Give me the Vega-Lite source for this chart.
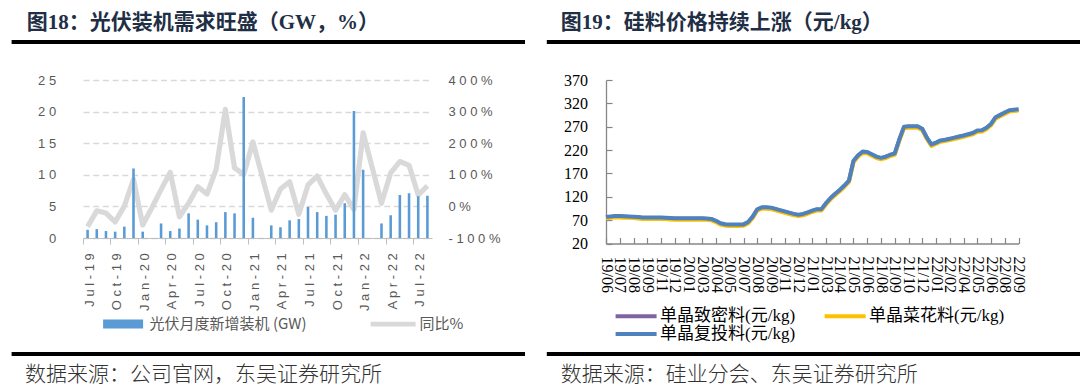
{
  "$schema": "https://vega.github.io/schema/vega-lite/v6.json",
  "background": "white",
  "padding": {"left": 9, "top": 12, "right": 0, "bottom": 0},
  "config": {"view": {"stroke": null}},
  "columns": 2,
  "align": "each",
  "bounds": "full",
  "spacing": {"row": 9, "column": 17},
  "resolve": {"scale": {"color": "independent", "x": "independent", "y": "independent"}, "legend": {"color": "independent"}},
  "concat": [
    {
      "width": 349,
      "height": 23,
      "data": {"values": [{}]},
      "title": {"text": "图18：光伏装机需求旺盛（GW，%）", "anchor": "start", "frame": "group", "dx": -56.3, "offset": 7, "font": "Liberation Serif, Noto Sans CJK SC", "fontSize": 21, "fontWeight": "bold", "color": "#1f2f45"},
      "mark": {"type": "rule", "color": "#000000", "strokeWidth": 4, "strokeCap": "butt"},
      "encoding": {
        "x": {"datum": 0, "type": "quantitative", "scale": {"domain": [0, 1], "range": [-71.4, 442]}, "axis": null},
        "x2": {"datum": 1},
        "y": {"datum": 1, "type": "quantitative", "scale": {"domain": [0, 1], "range": [23, 2]}, "axis": null}
      }
    },
    {
      "width": 412.5,
      "height": 23,
      "data": {"values": [{}]},
      "title": {"text": "图19：硅料价格持续上涨（元/kg）", "anchor": "start", "frame": "group", "dx": -45.2, "offset": 7, "font": "Liberation Serif, Noto Sans CJK SC", "fontSize": 21, "fontWeight": "bold", "color": "#1f2f45"},
      "mark": {"type": "rule", "color": "#000000", "strokeWidth": 4, "strokeCap": "butt"},
      "encoding": {
        "x": {"datum": 0, "type": "quantitative", "scale": {"domain": [0, 1], "range": [-59.2, 475]}, "axis": null},
        "x2": {"datum": 1},
        "y": {"datum": 1, "type": "quantitative", "scale": {"domain": [0, 1], "range": [23, 2]}, "axis": null}
      }
    },
    {
      "width": 349,
      "height": 158,
      "data": {"values": [
        {"month": "Jul-19", "gw": 1.3, "yoy": -64},
        {"month": "Aug-19", "gw": 1.4, "yoy": -14},
        {"month": "Sep-19", "gw": 1.1, "yoy": -21},
        {"month": "Oct-19", "gw": 1.0, "yoy": -49},
        {"month": "Nov-19", "gw": 1.8, "yoy": 1},
        {"month": "Dec-19", "gw": 11.0, "yoy": 86},
        {"month": "Jan-20", "gw": 1.0, "yoy": -59},
        {"month": "Feb-20", "gw": null, "yoy": -4},
        {"month": "Mar-20", "gw": 2.3, "yoy": 53},
        {"month": "Apr-20", "gw": 1.1, "yoy": 108},
        {"month": "May-20", "gw": 1.5, "yoy": -33},
        {"month": "Jun-20", "gw": 3.9, "yoy": 10},
        {"month": "Jul-20", "gw": 2.9, "yoy": 62},
        {"month": "Aug-20", "gw": 2.0, "yoy": 39},
        {"month": "Sep-20", "gw": 2.5, "yoy": 117},
        {"month": "Oct-20", "gw": 4.1, "yoy": 307},
        {"month": "Nov-20", "gw": 3.9, "yoy": 122},
        {"month": "Dec-20", "gw": 22.3, "yoy": 101},
        {"month": "Jan-21", "gw": 3.2, "yoy": 204},
        {"month": "Feb-21", "gw": null, "yoy": 96},
        {"month": "Mar-21", "gw": 2.0, "yoy": -12},
        {"month": "Apr-21", "gw": 1.7, "yoy": 55},
        {"month": "May-21", "gw": 2.8, "yoy": 78},
        {"month": "Jun-21", "gw": 3.0, "yoy": -25},
        {"month": "Jul-21", "gw": 4.9, "yoy": 68},
        {"month": "Aug-21", "gw": 4.1, "yoy": 96},
        {"month": "Sep-21", "gw": 3.5, "yoy": 39},
        {"month": "Oct-21", "gw": 3.7, "yoy": -12},
        {"month": "Nov-21", "gw": 5.5, "yoy": 37},
        {"month": "Dec-21", "gw": 20.1, "yoy": -10},
        {"month": "Jan-22", "gw": 10.8, "yoy": 233},
        {"month": "Feb-22", "gw": null, "yoy": 122},
        {"month": "Mar-22", "gw": 2.3, "yoy": 10},
        {"month": "Apr-22", "gw": 3.6, "yoy": 106},
        {"month": "May-22", "gw": 6.8, "yoy": 142},
        {"month": "Jun-22", "gw": 7.1, "yoy": 130},
        {"month": "Jul-22", "gw": 6.6, "yoy": 36},
        {"month": "Aug-22", "gw": 6.7, "yoy": 65}
      ]},
      "encoding": {
        "x": {
          "field": "month", "type": "ordinal", "sort": null,
          "scale": {"paddingInner": 0, "paddingOuter": 0},
          "axis": {
            "title": null,
            "values": ["Jul-19", "Oct-19", "Jan-20", "Apr-20", "Jul-20", "Oct-20", "Jan-21", "Apr-21", "Jul-21", "Oct-21", "Jan-22", "Apr-22", "Jul-22"],
            "bandPosition": 0, "labelAngle": -90, "labelOffset": 2, "labelPadding": 8.7,
            "tickSize": 6, "tickColor": "#BFBFBF", "domainColor": "#BFBFBF", "grid": false,
            "labelFont": "Liberation Sans", "labelFontSize": 13, "labelColor": "#595959",
            "labelExpr": "join(split(datum.label, ''), ' ')"
          }
        }
      },
      "layer": [
        {
          "mark": {"type": "line", "strokeWidth": 5.2, "strokeJoin": "round"},
          "encoding": {
            "y": {
              "field": "yoy", "type": "quantitative",
              "scale": {"domain": [-100, 400], "nice": false},
              "axis": {"orient": "right", "title": null, "values": [-100, 0, 100, 200, 300, 400], "grid": false, "domain": false, "ticks": false, "tickSize": 0, "labelPadding": 16, "minExtent": 93, "labelFont": "Liberation Sans", "labelFontSize": 13, "labelColor": "#595959", "labelExpr": "join(split(datum.value + '%', ''), ' ')"}
            },
            "color": {
              "datum": "同比%",
              "scale": {"domain": ["光伏月度新增装机 (GW)", "同比%"], "range": ["#5B9BD5", "#D9D9D9"]},
              "legend": {
                "orient": "none", "legendX": 32.6, "legendY": 236.3, "direction": "horizontal", "title": null,
                "padding": 0, "symbolType": "M-4,-0.9H4V0.9H-4Z", "symbolSize": 100, "labelOffset": 19,
                "columnPadding": 64, "labelFont": "Noto Sans CJK SC", "labelFontSize": 15, "labelColor": "#595959", "labelLimit": 400,
                "encode": {
                  "symbols": {
                    "update": {
                      "shape": {"signal": "datum.value === '同比%' ? 'M-4.5,-0.48H4.5V0.48H-4.5Z' : 'M-4,-0.9H4V0.9H-4Z'"},
                      "fill": {"signal": "datum.value === '同比%' ? '#D9D9D9' : '#5B9BD5'"},
                      "stroke": {"value": "transparent"},
                      "strokeWidth": {"value": 0},
                      "opacity": {"value": 1}
                    }
                  }
                }
              }
            }
          }
        },
        {
          "mark": {"type": "bar", "width": {"band": 0.28}},
          "encoding": {
            "y": {
              "field": "gw", "type": "quantitative",
              "scale": {"domain": [0, 25], "nice": false},
              "axis": {"orient": "left", "title": null, "values": [0, 5, 10, 15, 20, 25], "grid": true, "gridDash": [6, 3.7], "gridColor": "#D9D9D9", "gridWidth": 1.3, "domain": false, "ticks": false, "tickSize": 0, "labelPadding": 27.3, "minExtent": 71.4, "labelFont": "Liberation Sans", "labelFontSize": 13, "labelColor": "#595959", "labelExpr": "join(split(datum.label, ''), ' ')"}
            },
            "color": {"datum": "光伏月度新增装机 (GW)"}
          }
        }
      ],
      "resolve": {"scale": {"y": "independent"}}
    },
    {
      "width": 412.5,
      "height": 163.5,
      "data": {"values": [
        {"d": "2019-06-01", "dense": 76.0, "flower": 74.0, "recharge": 77.0},
        {"d": "2019-06-11", "dense": 77.0, "flower": 75.0, "recharge": 78.0},
        {"d": "2019-06-21", "dense": 78.0, "flower": 76.0, "recharge": 79.0},
        {"d": "2019-07-01", "dense": 77.7, "flower": 75.7, "recharge": 78.7},
        {"d": "2019-07-11", "dense": 77.3, "flower": 75.3, "recharge": 78.3},
        {"d": "2019-07-21", "dense": 76.9, "flower": 74.9, "recharge": 77.9},
        {"d": "2019-08-01", "dense": 76.5, "flower": 74.5, "recharge": 77.5},
        {"d": "2019-08-11", "dense": 75.5, "flower": 73.5, "recharge": 76.5},
        {"d": "2019-08-21", "dense": 74.6, "flower": 72.6, "recharge": 75.6},
        {"d": "2019-09-01", "dense": 74.6, "flower": 72.6, "recharge": 75.6},
        {"d": "2019-09-11", "dense": 74.6, "flower": 72.6, "recharge": 75.6},
        {"d": "2019-09-21", "dense": 74.6, "flower": 72.6, "recharge": 75.6},
        {"d": "2019-11-01", "dense": 74.6, "flower": 72.6, "recharge": 75.6},
        {"d": "2019-11-11", "dense": 74.2, "flower": 72.2, "recharge": 75.2},
        {"d": "2019-11-21", "dense": 73.6, "flower": 71.6, "recharge": 74.6},
        {"d": "2019-12-01", "dense": 73.1, "flower": 71.1, "recharge": 74.1},
        {"d": "2019-12-11", "dense": 73.0, "flower": 71.0, "recharge": 74.0},
        {"d": "2019-12-21", "dense": 73.0, "flower": 71.0, "recharge": 74.0},
        {"d": "2020-01-01", "dense": 73.0, "flower": 71.0, "recharge": 74.0},
        {"d": "2020-01-11", "dense": 73.0, "flower": 71.0, "recharge": 74.0},
        {"d": "2020-01-21", "dense": 73.0, "flower": 71.0, "recharge": 74.0},
        {"d": "2020-03-01", "dense": 72.8, "flower": 70.8, "recharge": 73.8},
        {"d": "2020-03-11", "dense": 72.6, "flower": 70.6, "recharge": 73.6},
        {"d": "2020-03-21", "dense": 71.5, "flower": 69.5, "recharge": 72.5},
        {"d": "2020-04-01", "dense": 67.5, "flower": 65.5, "recharge": 68.5},
        {"d": "2020-04-11", "dense": 62.4, "flower": 60.4, "recharge": 63.4},
        {"d": "2020-04-21", "dense": 60.2, "flower": 58.2, "recharge": 61.2},
        {"d": "2020-05-01", "dense": 59.5, "flower": 57.5, "recharge": 60.5},
        {"d": "2020-05-11", "dense": 59.5, "flower": 57.5, "recharge": 60.5},
        {"d": "2020-05-21", "dense": 59.6, "flower": 57.6, "recharge": 60.6},
        {"d": "2020-07-01", "dense": 59.9, "flower": 57.9, "recharge": 60.9},
        {"d": "2020-07-11", "dense": 65.0, "flower": 63.0, "recharge": 66.0},
        {"d": "2020-07-21", "dense": 76.5, "flower": 74.5, "recharge": 77.5},
        {"d": "2020-08-01", "dense": 92.3, "flower": 90.3, "recharge": 93.3},
        {"d": "2020-08-11", "dense": 96.4, "flower": 94.4, "recharge": 97.4},
        {"d": "2020-08-21", "dense": 96.4, "flower": 94.4, "recharge": 97.4},
        {"d": "2020-09-01", "dense": 95.8, "flower": 93.8, "recharge": 96.8},
        {"d": "2020-09-11", "dense": 93.2, "flower": 91.2, "recharge": 94.2},
        {"d": "2020-09-21", "dense": 90.4, "flower": 88.4, "recharge": 91.4},
        {"d": "2020-11-01", "dense": 87.8, "flower": 85.8, "recharge": 88.8},
        {"d": "2020-11-11", "dense": 85.1, "flower": 83.1, "recharge": 86.1},
        {"d": "2020-11-21", "dense": 82.4, "flower": 80.4, "recharge": 83.4},
        {"d": "2020-12-01", "dense": 80.6, "flower": 78.6, "recharge": 81.6},
        {"d": "2020-12-11", "dense": 82.2, "flower": 80.2, "recharge": 83.2},
        {"d": "2020-12-21", "dense": 85.7, "flower": 83.7, "recharge": 86.7},
        {"d": "2021-01-01", "dense": 89.5, "flower": 87.5, "recharge": 90.5},
        {"d": "2021-01-11", "dense": 92.5, "flower": 90.5, "recharge": 93.5},
        {"d": "2021-01-21", "dense": 92.5, "flower": 90.5, "recharge": 93.5},
        {"d": "2021-03-01", "dense": 105.5, "flower": 103.5, "recharge": 106.5},
        {"d": "2021-03-11", "dense": 116.4, "flower": 114.4, "recharge": 117.4},
        {"d": "2021-03-21", "dense": 125.6, "flower": 123.6, "recharge": 126.6},
        {"d": "2021-04-01", "dense": 133.7, "flower": 131.7, "recharge": 134.7},
        {"d": "2021-04-11", "dense": 143.0, "flower": 141.0, "recharge": 144.0},
        {"d": "2021-04-21", "dense": 153.4, "flower": 151.4, "recharge": 154.4},
        {"d": "2021-05-01", "dense": 196.0, "flower": 194.0, "recharge": 197.0},
        {"d": "2021-05-11", "dense": 208.0, "flower": 206.0, "recharge": 209.0},
        {"d": "2021-05-21", "dense": 215.7, "flower": 213.7, "recharge": 216.7},
        {"d": "2021-06-01", "dense": 215.0, "flower": 213.0, "recharge": 216.0},
        {"d": "2021-06-11", "dense": 210.0, "flower": 208.0, "recharge": 211.0},
        {"d": "2021-06-21", "dense": 205.0, "flower": 203.0, "recharge": 206.0},
        {"d": "2021-08-01", "dense": 202.4, "flower": 200.4, "recharge": 203.4},
        {"d": "2021-08-11", "dense": 204.8, "flower": 202.8, "recharge": 205.8},
        {"d": "2021-08-21", "dense": 209.0, "flower": 207.0, "recharge": 210.0},
        {"d": "2021-09-01", "dense": 212.0, "flower": 210.0, "recharge": 213.0},
        {"d": "2021-09-11", "dense": 242.0, "flower": 240.0, "recharge": 243.0},
        {"d": "2021-09-21", "dense": 268.7, "flower": 266.7, "recharge": 269.7},
        {"d": "2021-10-01", "dense": 270.0, "flower": 268.0, "recharge": 271.0},
        {"d": "2021-10-11", "dense": 270.0, "flower": 268.0, "recharge": 271.0},
        {"d": "2021-10-21", "dense": 270.0, "flower": 268.0, "recharge": 271.0},
        {"d": "2021-12-01", "dense": 264.7, "flower": 262.7, "recharge": 265.7},
        {"d": "2021-12-11", "dense": 245.8, "flower": 243.8, "recharge": 246.8},
        {"d": "2021-12-21", "dense": 231.0, "flower": 229.0, "recharge": 232.0},
        {"d": "2022-01-01", "dense": 235.0, "flower": 233.0, "recharge": 236.0},
        {"d": "2022-01-11", "dense": 239.7, "flower": 237.7, "recharge": 240.7},
        {"d": "2022-01-21", "dense": 241.2, "flower": 239.2, "recharge": 242.2},
        {"d": "2022-02-01", "dense": 243.3, "flower": 241.3, "recharge": 244.3},
        {"d": "2022-02-11", "dense": 245.6, "flower": 243.6, "recharge": 246.6},
        {"d": "2022-02-21", "dense": 247.9, "flower": 245.9, "recharge": 248.9},
        {"d": "2022-04-01", "dense": 250.2, "flower": 248.2, "recharge": 251.2},
        {"d": "2022-04-11", "dense": 252.8, "flower": 250.8, "recharge": 253.8},
        {"d": "2022-04-21", "dense": 255.6, "flower": 253.6, "recharge": 256.6},
        {"d": "2022-05-01", "dense": 260.8, "flower": 258.8, "recharge": 261.8},
        {"d": "2022-05-11", "dense": 261.5, "flower": 259.5, "recharge": 262.5},
        {"d": "2022-05-21", "dense": 266.8, "flower": 264.8, "recharge": 267.8},
        {"d": "2022-06-01", "dense": 275.0, "flower": 273.0, "recharge": 276.0},
        {"d": "2022-06-11", "dense": 289.3, "flower": 287.3, "recharge": 290.3},
        {"d": "2022-06-21", "dense": 294.3, "flower": 292.3, "recharge": 295.3},
        {"d": "2022-08-01", "dense": 299.5, "flower": 297.5, "recharge": 300.5},
        {"d": "2022-08-11", "dense": 304.3, "flower": 302.3, "recharge": 305.3},
        {"d": "2022-08-21", "dense": 305.5, "flower": 303.5, "recharge": 306.5},
        {"d": "2022-09-01", "dense": 306.5, "flower": 304.5, "recharge": 307.5}
      ]},
      "encoding": {
        "x": {
          "field": "d", "type": "ordinal",
          "scale": {"type": "point", "padding": 0},
          "axis": {
            "title": null,
            "values": ["2019-06-01", "2019-07-01", "2019-08-01", "2019-09-01", "2019-11-01", "2019-12-01", "2020-01-01", "2020-03-01", "2020-04-01", "2020-05-01", "2020-07-01", "2020-08-01", "2020-09-01", "2020-11-01", "2020-12-01", "2021-01-01", "2021-03-01", "2021-04-01", "2021-05-01", "2021-06-01", "2021-08-01", "2021-09-01", "2021-10-01", "2021-12-01", "2022-01-01", "2022-02-01", "2022-04-01", "2022-05-01", "2022-06-01", "2022-08-01", "2022-09-01"],
            "labelExpr": "substring(datum.value, 2, 4) + '/' + substring(datum.value, 5, 7)",
            "labelAngle": 90, "labelPadding": 18.5, "tickSize": -6,
            "tickColor": "#868686", "domainColor": "#868686", "domainWidth": 1.3, "tickWidth": 1.2,
            "labelFont": "Liberation Serif", "labelFontSize": 16, "labelColor": "#000000", "grid": false
          }
        }
      },
      "layer": [
        {
          "mark": {"type": "line", "strokeWidth": 4, "strokeJoin": "round"},
          "encoding": {
            "y": {"field": "dense", "type": "quantitative", "scale": {"domain": [20, 370], "nice": false, "zero": false},
              "axis": {"title": null, "values": [20, 70, 120, 170, 220, 270, 320, 370], "grid": false, "tickSize": -6, "labelPadding": 24.6, "minExtent": 59.2, "tickColor": "#868686", "domainColor": "#868686", "domainWidth": 1.3, "tickWidth": 1.2, "labelFont": "Liberation Serif", "labelFontSize": 16, "labelColor": "#000000"}},
            "color": {
              "datum": "单晶致密料(元/kg)",
              "scale": {"domain": ["单晶致密料(元/kg)", "单晶菜花料(元/kg)", "单晶复投料(元/kg)"], "range": ["#8064A2", "#FFC000", "#4F81BD"]},
              "legend": {
                "orient": "none", "legendX": 21.6, "legendY": 227.5, "columns": 2, "direction": "horizontal", "title": null,
                "padding": 0, "symbolType": "M-4.1,0H4.1", "symbolSize": 100, "symbolStrokeWidth": 4, "symbolFillColor": "transparent",
                "labelOffset": 15.4, "columnPadding": 21, "rowPadding": 0,
                "labelFont": "Liberation Serif, Noto Sans CJK SC", "labelFontSize": 17, "labelColor": "#000000", "labelLimit": 400
              }
            }
          }
        },
        {
          "mark": {"type": "line", "strokeWidth": 4, "strokeJoin": "round"},
          "encoding": {
            "y": {"field": "flower", "type": "quantitative",
              "axis": {"title": null, "values": [20, 70, 120, 170, 220, 270, 320, 370], "grid": false, "tickSize": -6, "labelPadding": 24.6, "minExtent": 59.2, "tickColor": "#868686", "domainColor": "#868686", "domainWidth": 1.3, "tickWidth": 1.2, "labelFont": "Liberation Serif", "labelFontSize": 16, "labelColor": "#000000"}},
            "color": {"datum": "单晶菜花料(元/kg)"}
          }
        },
        {
          "mark": {"type": "line", "strokeWidth": 4, "strokeJoin": "round"},
          "encoding": {
            "y": {"field": "recharge", "type": "quantitative",
              "axis": {"title": null, "values": [20, 70, 120, 170, 220, 270, 320, 370], "grid": false, "tickSize": -6, "labelPadding": 24.6, "minExtent": 59.2, "tickColor": "#868686", "domainColor": "#868686", "domainWidth": 1.3, "tickWidth": 1.2, "labelFont": "Liberation Serif", "labelFontSize": 16, "labelColor": "#000000"}},
            "color": {"datum": "单晶复投料(元/kg)"}
          }
        }
      ]
    },
    {
      "width": 349,
      "height": 4,
      "data": {"values": [{}]},
      "title": {"text": "数据来源：公司官网，东吴证券研究所", "orient": "bottom", "anchor": "start", "frame": "group", "dx": -58, "offset": 8, "font": "Noto Sans CJK SC", "fontSize": 21, "fontWeight": 300, "color": "#333333"},
      "mark": {"type": "rule", "color": "#000000", "strokeWidth": 4, "strokeCap": "butt"},
      "encoding": {
        "x": {"datum": 0, "type": "quantitative", "scale": {"domain": [0, 1], "range": [-71.4, 442]}, "axis": null},
        "x2": {"datum": 1},
        "y": {"datum": 0.5, "type": "quantitative", "scale": {"domain": [0, 1]}, "axis": null}
      }
    },
    {
      "width": 412.5,
      "height": 4,
      "data": {"values": [{}]},
      "title": {"text": "数据来源：硅业分会、东吴证券研究所", "orient": "bottom", "anchor": "start", "frame": "group", "dx": -45.2, "offset": 8, "font": "Noto Sans CJK SC", "fontSize": 21, "fontWeight": 300, "color": "#333333"},
      "mark": {"type": "rule", "color": "#000000", "strokeWidth": 4, "strokeCap": "butt"},
      "encoding": {
        "x": {"datum": 0, "type": "quantitative", "scale": {"domain": [0, 1], "range": [-59.2, 475]}, "axis": null},
        "x2": {"datum": 1},
        "y": {"datum": 0.5, "type": "quantitative", "scale": {"domain": [0, 1]}, "axis": null}
      }
    }
  ]
}
